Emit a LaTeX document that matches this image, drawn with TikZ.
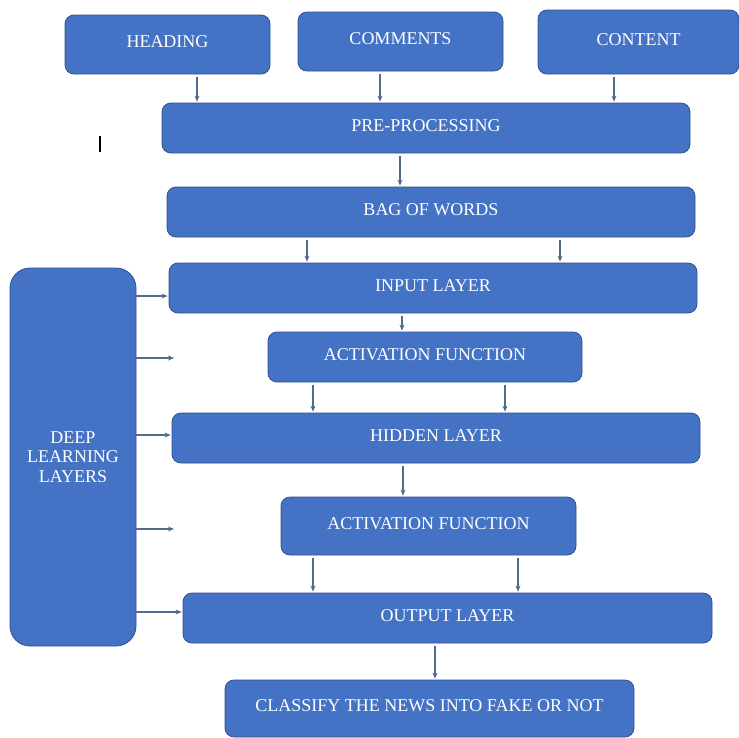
\documentclass[tikz,border=0pt]{standalone}
\usepackage{fontspec}
\setmainfont{Liberation Serif}
\usetikzlibrary{arrows.meta}
\definecolor{boxfill}{RGB}{68,114,196}
\definecolor{boxedge}{RGB}{47,82,143}
\definecolor{arrowcol}{RGB}{84,106,138}

\begin{document}
\begin{tikzpicture}[x=1pt, y=-1pt,
    blk/.style={draw=boxedge, line width=0.8pt, fill=boxfill, rounded corners=9pt,
      text=white, font=\fontsize{18}{20}\selectfont, inner sep=0pt, text depth=5pt},
    arr/.style={draw=arrowcol, line width=1.1pt, -{Stealth[length=6pt,width=5pt]},
      shorten <=3pt, shorten >=1pt}]
  \useasboundingbox (0,0) rectangle (739,737);

  % three sources
  \node[blk, minimum width=205pt, minimum height=59pt] (head) at (167.5,44.5) {HEADING};
  \node[blk, minimum width=205pt, minimum height=59pt] (comm) at (400.5,41.5) {COMMENTS};
  \node[blk, minimum width=201pt, minimum height=64pt] (cont) at (638.5,42) {CONTENT};

  % main column
  \node[blk, minimum width=528pt, minimum height=50pt] (pre)  at (426,128)   {PRE-PROCESSING};
  \node[blk, minimum width=528pt, minimum height=50pt] (bag)  at (431,212)   {BAG OF WORDS};
  \node[blk, minimum width=528pt, minimum height=50pt] (inp)  at (433,288)   {INPUT LAYER};
  \node[blk, minimum width=314pt, minimum height=50pt] (act1) at (425,357)   {ACTIVATION FUNCTION};
  \node[blk, minimum width=528pt, minimum height=50pt] (hid)  at (436,438)   {HIDDEN LAYER};
  \node[blk, minimum width=295pt, minimum height=58pt] (act2) at (428.5,526) {ACTIVATION FUNCTION};
  \node[blk, minimum width=529pt, minimum height=50pt] (out)  at (447.5,618) {OUTPUT LAYER};
  \node[blk, minimum width=409pt, minimum height=57pt] (cls)  at (429.5,708.5) {CLASSIFY THE NEWS INTO FAKE OR NOT};

  % side block
  \node[blk, rounded corners=20pt, minimum width=126pt, minimum height=378pt, align=center,
    text depth=0pt, font=\fontsize{18}{19.5}\selectfont] (dll) at (73,457) {DEEP\\LEARNING\\LAYERS};

  % downward arrows
  \draw[arr] (head.south -| 197,0) -- (pre.north -| 197,0);
  \draw[arr] (comm.south -| 380,0) -- (pre.north -| 380,0);
  \draw[arr] (cont.south -| 614,0) -- (pre.north -| 614,0);
  \draw[arr] (pre.south -| 400,0) -- (bag.north -| 400,0);
  \foreach \xx in {307,560}
    \draw[arr] (bag.south -| \xx,0) -- (inp.north -| \xx,0);
  \draw[arr] (inp.south -| 402,0) -- (act1.north -| 402,0);
  \foreach \xx in {313,505}
    \draw[arr] (act1.south -| \xx,0) -- (hid.north -| \xx,0);
  \draw[arr] (hid.south -| 403,0) -- (act2.north -| 403,0);
  \foreach \xx in {313,518}
    \draw[arr] (act2.south -| \xx,0) -- (out.north -| \xx,0);
  \draw[arr] (out.south -| 435,0) -- (cls.north -| 435,0);

  % side arrows
  \coordinate (free1) at (175,358);
  \coordinate (free2) at (175,529);
  \draw[arr, shorten <=0pt] (dll.east |- 0,296) -- (inp.west |- 0,296);
  \draw[arr, shorten <=0pt] (dll.east |- free1) -- (free1);
  \draw[arr, shorten <=0pt] (dll.east |- 0,435) -- (hid.west |- 0,435);
  \draw[arr, shorten <=0pt] (dll.east |- free2) -- (free2);
  \draw[arr, shorten <=0pt] (dll.east |- 0,612) -- (out.west |- 0,612);

  % stray cursor mark
  \draw[line width=1.4pt] (100,136) -- (100,152);
\end{tikzpicture}
\end{document}
